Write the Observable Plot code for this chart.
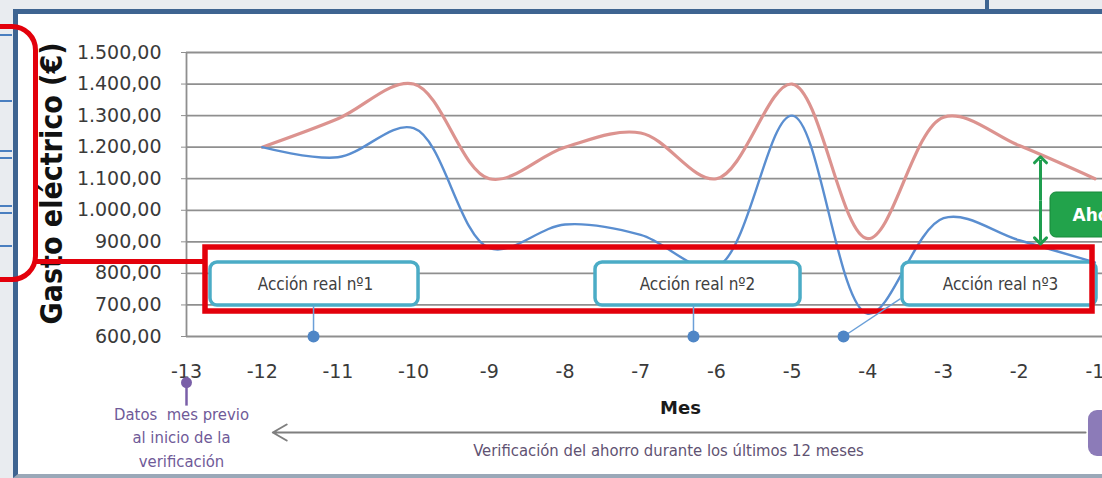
<!DOCTYPE html>
<html>
<head>
<meta charset="utf-8">
<script src="https://cdn.jsdelivr.net/npm/d3@7"></script>
<script src="https://cdn.jsdelivr.net/npm/@observablehq/plot@0.6"></script>
<style>
  html, body { margin: 0; padding: 0; background: #e9ecf0; overflow: hidden; }
  #stage { position: relative; width: 1102px; height: 478px; overflow: hidden; background: #e9ecf0; }
  #panel { position: absolute; left: 13px; top: 9px; width: 1200px; height: 460px; background: #fff;
           border-left: 5px solid #3e6491; border-top: 5px solid #3e6491; border-bottom: 4px solid #9aa8b8; }
  #chart { position: absolute; left: 0; top: 0; z-index: 2; }
  .side { position: absolute; left: 0; width: 12px; height: 2px; background: #4a7fc0; z-index: 1; }
  #topline { position: absolute; left: 985px; top: 0; width: 4px; height: 13px; background: #3e6491; z-index: 1; }
  #redround { position: absolute; box-sizing: border-box; left: -42px; top: 24px; width: 80px; height: 258px;
              border: 5px solid #e3000b; border-radius: 26px; z-index: 3; }
  #redlink { position: absolute; left: 36px; top: 259px; width: 170px; height: 5px; background: #e3000b; z-index: 3; }
</style>
</head>
<body>
<div id="stage">
  <div id="panel"></div>
  <div class="side" style="top:34px"></div>
  <div class="side" style="top:100px"></div>
  <div class="side" style="top:150px"></div>
  <div class="side" style="top:157px"></div>
  <div class="side" style="top:205px"></div>
  <div class="side" style="top:212px"></div>
  <div class="side" style="top:245px"></div>
  <div id="topline"></div>
  <div id="redround"></div>
  <div id="redlink"></div>
</div>
<script>
// ---- data ----
const months = [-12, -11, -10, -9, -8, -7, -6, -5, -4, -3, -2, -1];
const gastoReferencia = [1200, 1290, 1400, 1100, 1200, 1245, 1100, 1400, 910, 1295, 1205, 1100];
const gastoReal = [1200, 1168, 1260, 880, 955, 922, 820, 1300, 672, 975, 905, 835];
const xTicks = [-13, -12, -11, -10, -9, -8, -7, -6, -5, -4, -3, -2, -1];
const yTicks = [600, 700, 800, 900, 1000, 1100, 1200, 1300, 1400, 1500];

// annotation callouts (month, euro units)
const boxLabels = ["Acción real nº1", "Acción real nº2", "Acción real nº3"];
const boxX1 = [-12.683, -7.597, -3.542];
const boxX2 = [-9.935, -4.889, -0.979];
const boxTextX = [-11.296, -6.25, -2.247];
const actionMonths = [-11.322, -6.303, -4.321];
const connectorEndX = [-11.322, -6.303, -3.568];
const connectorEndY = [698, 698, 720];

const savingsEnds = [1160, 903];

const prevLines = ["Datos  mes previo", "al inicio de la", "verificación"];
const prevLineY = [352.8, 278.3, 203.9];

// ---- build tables ----
const series = [];
months.forEach((m, i) => {
  series.push({mes: m, gasto: gastoReferencia[i], serie: "referencia"});
  series.push({mes: m, gasto: gastoReal[i], serie: "real"});
});
const boxes = boxLabels.map((t, i) => ({label: t, x1: boxX1[i], x2: boxX2[i], cx: boxTextX[i]}));
const connectors = actionMonths.map((m, i) => ({x1: m, x2: connectorEndX[i], y2: connectorEndY[i]}));
const prevText = prevLines.map((t, i) => ({t, y: prevLineY[i]}));
const savingsMid = (savingsEnds[0] + savingsEnds[1]) / 2;

const fmtES = d3.formatLocale({decimal: ",", thousands: ".", grouping: [3], currency: ["", " €"]}).format(",.2f");
const cond = "DejaVu Sans Condensed, DejaVu Sans, sans-serif";
const gridGray = "#8f8f8f";

const chart = Plot.plot({
  width: 1102,
  height: 478,
  marginLeft: 186,
  marginRight: 0,
  marginTop: 52,
  marginBottom: 142,
  style: {background: "transparent", overflow: "visible", color: "#3a3a3a"},
  x: {domain: [-13, -0.9]},
  y: {domain: [600, 1500]},
  marks: [
    Plot.gridY(yTicks, {stroke: gridGray, strokeOpacity: 1, strokeWidth: 1.8}),
    Plot.ruleX([-13], {y1: 600, y2: 1500, stroke: gridGray, strokeWidth: 1.8}),
    Plot.axisY(yTicks, {tickFormat: fmtES, tickSize: 5, tickPadding: 20, fontSize: 19,
      fontFamily: "DejaVu Sans, sans-serif", fill: "#3a3a3a", stroke: gridGray, label: null}),
    Plot.axisX(xTicks, {tickFormat: d => String(d), tickSize: 0, tickPadding: 28, fontSize: 19,
      fontFamily: "DejaVu Sans, sans-serif", fill: "#3a3a3a", label: null}),
    Plot.line(series.filter(d => d.serie === "referencia"), {x: "mes", y: "gasto", curve: "catmull-rom",
      stroke: "#dc938f", strokeWidth: 3.2}),
    Plot.line(series.filter(d => d.serie === "real"), {x: "mes", y: "gasto", curve: "catmull-rom",
      stroke: "#5a8ed0", strokeWidth: 2.4}),
    // callout boxes
    Plot.rect(boxes, {x1: "x1", x2: "x2", y1: 698, y2: 834.5, rx: 7, fill: "white", stroke: "#4bacc6", strokeWidth: 3.5}),
    Plot.text(boxes, {x: "cx", y: 764.8, text: "label", fontFamily: cond, fontSize: 17, fill: "#404040"}),
    // red highlight
    Plot.rect([0], {x1: -12.749, x2: -1.032, y1: 679.2, y2: 882, fill: "none", stroke: "#e3000b", strokeWidth: 5.5}),
    // connectors and action dots
    Plot.link(connectors, {x1: "x1", y1: 600, x2: "x2", y2: "y2", stroke: "#6a9fd8", strokeWidth: 1.5}),
    Plot.dot(actionMonths, {x: d => d, y: 600, r: 6, fill: "#4f86c6", stroke: "none"}),
    // savings double arrow (two halves from the middle) and box
    Plot.link(savingsEnds, {x1: -1.719, y1: savingsMid, x2: -1.719, y2: d => d, stroke: "#1f9e4f", strokeWidth: 3,
      markerEnd: "arrow"}),
    Plot.rect([0], {x1: -1.587, x2: -0.7, y1: 913.7, y2: 1056.3, rx: 6, fill: "#22a34b", stroke: "#17893b", strokeWidth: 1}),
    Plot.text(["Ahorro"], {x: -1.296, y: 983.4, text: d => d, textAnchor: "start", fontFamily: "DejaVu Sans, sans-serif",
      fontWeight: "bold", fontSize: 17, fill: "white"}),
    // previous-month marker
    Plot.link([0], {x1: -13, y1: 454, x2: -13, y2: 381, stroke: "#7a5fa8", strokeWidth: 2.5}),
    Plot.dot([0], {x: -13, y: 454, r: 5.5, fill: "#7a5fa8", stroke: "none"}),
    Plot.text(prevText, {x: -13.066, y: "y", text: "t", fontFamily: cond, fontSize: 16.5, fill: "#6f5a98"}),
    // verification arrow
    Plot.arrow([0], {x1: -1.124, y1: 295.8, x2: -11.86, y2: 295.8, stroke: "#7f7f7f", strokeWidth: 2, headLength: 12}),
    Plot.text(["Verificación del ahorro durante los últimos 12 meses"], {x: -6.633, y: 238.7, text: d => d,
      fontFamily: cond, fontSize: 16.5, fill: "#5f5272"}),
    Plot.rect([0], {x1: -1.085, x2: -0.6, y1: 219.7, y2: 365.5, rx: 9, fill: "#8c7bb8"}),
    // axis titles
    Plot.text(["Mes"], {x: -6.474, y: 371.8, text: d => d, fontFamily: "DejaVu Sans, sans-serif",
      fontWeight: "bold", fontSize: 18, fill: "#1a1a1a"}),
    Plot.text(["Gasto eléctrico (€)"], {x: -14.77, y: 1085, text: d => d, rotate: -90,
      fontFamily: cond, fontWeight: "bold", fontSize: 30, fill: "#111"})
  ]
});
chart.id = "chart";
document.getElementById("stage").appendChild(chart);
</script>
</body>
</html>
